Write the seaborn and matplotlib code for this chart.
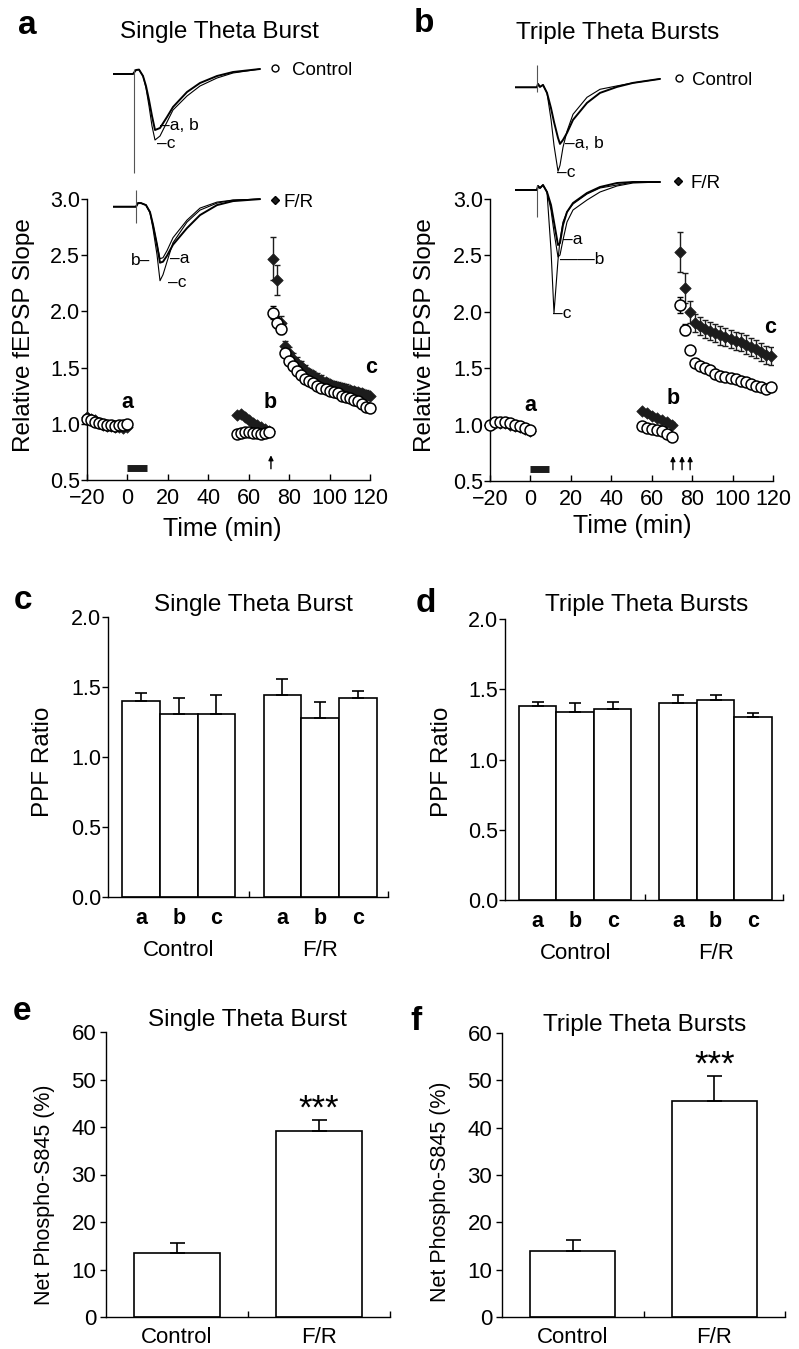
import numpy as np
import pandas as pd
import matplotlib
matplotlib.use('Agg')
import matplotlib.pyplot as plt
from matplotlib.lines import Line2D
import seaborn as sns

sns.set_style('ticks', {'axes.edgecolor': 'black', 'xtick.color': 'black', 'ytick.color': 'black',
                        'text.color': 'black', 'axes.labelcolor': 'black'})
plt.rcParams['font.family'] = ['Liberation Sans', 'DejaVu Sans']
plt.rcParams['axes.linewidth'] = 1.0

W, H = 799, 1349
DARK = '#1c1c1c'

# ---------------- panel a : single theta burst, fEPSP slope vs time ----------------
time_a = [-20, -18, -16, -14, -12, -10, -8, -6, -4, -2, 0,
          54, 56, 58, 60, 62, 64, 66, 68, 70,
          72, 74, 76, 78, 80, 82, 84, 86, 88, 90, 92, 94, 96, 98, 100,
          102, 104, 106, 108, 110, 112, 114, 116, 118, 120]
ctrl_a = [1.04, 1.03, 1.02, 1.01, 1.00, 0.99, 0.99, 0.98, 0.99, 0.99, 1.00,
          0.91, 0.92, 0.93, 0.93, 0.92, 0.92, 0.91, 0.92, 0.93,
          1.99, 1.90, 1.84, 1.63, 1.56, 1.51, 1.47, 1.43, 1.40, 1.38, 1.36, 1.34, 1.32, 1.31, 1.29,
          1.28, 1.27, 1.25, 1.24, 1.23, 1.21, 1.20, 1.18, 1.15, 1.14]
ctrl_a_err = [0.02, 0.02, 0.02, 0.02, 0.02, 0.02, 0.02, 0.02, 0.02, 0.02, 0.02,
              0.02, 0.02, 0.02, 0.02, 0.02, 0.02, 0.02, 0.02, 0.02,
              0.06, 0.05, 0.04, 0.03, 0.03, 0.03, 0.03, 0.03, 0.03, 0.03, 0.03, 0.03, 0.03, 0.03, 0.03,
              0.03, 0.03, 0.03, 0.03, 0.03, 0.03, 0.03, 0.03, 0.03, 0.03]
fr_a = [1.06, 1.04, 1.03, 1.01, 0.99, 0.98, 0.98, 0.97, 0.97, 0.96, 0.97,
        1.08, 1.09, 1.06, 1.03, 1.01, 0.99, 0.97, 0.95, 0.94,
        2.47, 2.28, 1.90, 1.69, 1.63, 1.58, 1.54, 1.51, 1.48, 1.45, 1.43, 1.41, 1.39, 1.37, 1.35,
        1.34, 1.33, 1.32, 1.31, 1.30, 1.29, 1.28, 1.27, 1.26, 1.25]
fr_a_err = [0.02, 0.02, 0.02, 0.02, 0.02, 0.02, 0.02, 0.02, 0.02, 0.02, 0.02,
            0.02, 0.02, 0.02, 0.02, 0.02, 0.02, 0.02, 0.02, 0.02,
            0.19, 0.13, 0.06, 0.05, 0.05, 0.05, 0.05, 0.05, 0.04, 0.04, 0.04, 0.04, 0.04, 0.04, 0.04,
            0.04, 0.04, 0.04, 0.04, 0.04, 0.04, 0.04, 0.04, 0.04, 0.04]

# ---------------- panel b : triple theta bursts ----------------
time_b = [-20, -17.5, -15, -12.5, -10, -7.5, -5, -2.5, 0,
          55, 57.5, 60, 62.5, 65, 67.5, 70,
          74, 76.5, 79, 81.5, 84, 86.5, 89, 91.5, 94, 96.5, 99, 101.5, 104, 106.5,
          109, 111.5, 114, 116.5, 119]
ctrl_b = [1.00, 1.02, 1.02, 1.02, 1.01, 1.00, 0.99, 0.97, 0.95,
          0.99, 0.97, 0.96, 0.95, 0.94, 0.92, 0.89,
          2.06, 1.84, 1.66, 1.55, 1.52, 1.50, 1.48, 1.45, 1.43, 1.42, 1.41, 1.40, 1.39, 1.38,
          1.36, 1.34, 1.33, 1.32, 1.33]
ctrl_b_err = [0.02, 0.02, 0.02, 0.02, 0.02, 0.02, 0.02, 0.02, 0.02,
              0.02, 0.02, 0.02, 0.02, 0.02, 0.02, 0.02,
              0.07, 0.05, 0.03, 0.02, 0.02, 0.02, 0.02, 0.02, 0.02, 0.02, 0.02, 0.02, 0.02, 0.02,
              0.02, 0.02, 0.02, 0.02, 0.02]
fr_b = [1.00, 1.01, 1.01, 1.01, 1.00, 0.99, 0.98, 0.96, 0.94,
        1.12, 1.10, 1.08, 1.06, 1.04, 1.02, 1.00,
        2.53, 2.21, 2.00, 1.90, 1.87, 1.85, 1.83, 1.81, 1.79, 1.78, 1.76, 1.74, 1.73, 1.71,
        1.69, 1.67, 1.64, 1.62, 1.61]
fr_b_err = [0.02, 0.02, 0.02, 0.02, 0.02, 0.02, 0.02, 0.02, 0.02,
            0.02, 0.02, 0.02, 0.02, 0.02, 0.02, 0.02,
            0.18, 0.13, 0.10, 0.08, 0.08, 0.08, 0.08, 0.08, 0.08, 0.08, 0.08, 0.08, 0.08, 0.08,
            0.08, 0.08, 0.08, 0.08, 0.08]

treat_a = [0, 9.5]          # F/R application (black bar)
treat_b = [0, 9.3]
arrows_a = [71]             # theta burst(s)
arrows_b = [70.5, 75, 79]
letters_a = [('a', 0, 1.19), ('b', 70.6, 1.19), ('c', 120.5, 1.50)]
letters_b = [('a', 0, 1.17), ('b', 70.5, 1.23), ('c', 118.8, 1.86)]

# ---------------- example fEPSP traces (ms, mV) ----------------
tr_t_a1 = [0, 4.0, 4.6, 5.2, 6.0, 6.6, 7.2, 7.8, 8.4, 9.4, 10.8, 12.0, 14.8, 17.4, 20.8, 24.0, 29.4]
tr_a_ctrl_ab = [0, 0, 0.2, 0.22, -0.1, -0.6, -1.3, -2.1, -2.8, -2.7, -2.15, -1.65, -0.9, -0.45, -0.1, 0.1, 0.25]
tr_a_ctrl_c = [0, 0, 0.2, 0.22, -0.1, -0.7, -1.6, -2.6, -3.3, -3.1, -2.4, -1.8, -1.1, -0.6, -0.2, 0.05, 0.25]
tr_t_a2 = [0, 4.6, 5.0, 5.6, 6.6, 7.4, 8.0, 8.8, 9.4, 10.0, 10.8, 12.0, 14.8, 17.4, 20.8, 24.0, 29.4]
tr_a_fr_a = [0, 0, 0.18, 0.18, 0.08, -0.27, -0.9, -1.9, -2.6, -2.55, -2.2, -1.55, -0.67, -0.07, 0.23, 0.33, 0.38]
tr_a_fr_b = [0, 0, 0.18, 0.18, 0.08, -0.27, -0.9, -1.9, -2.8, -2.75, -2.45, -1.9, -1.07, -0.42, 0.08, 0.28, 0.38]
tr_a_fr_c = [0, 0, 0.18, 0.18, 0.08, -0.3, -1.1, -2.4, -3.7, -3.4, -2.75, -1.8, -0.77, -0.17, 0.18, 0.33, 0.38]
tr_t_b = [0, 4.4, 4.6, 5.0, 5.6, 6.4, 7.2, 7.8, 8.6, 9.0, 9.6, 10.4, 11.6, 14.4, 17.0, 20.4, 23.6, 29.0]
tr_b_ctrl_ab = [0, 0, 0.17, 0.02, 0.12, -0.28, -1.04, -1.73, -2.53, -2.83, -2.63, -2.28, -1.63, -0.78, -0.28, 0.02, 0.22, 0.42]
tr_b_ctrl_c = [0, 0, 0.17, 0.02, 0.12, -0.28, -1.6, -2.9, -4.2, -3.9, -3.0, -2.2, -1.35, -0.5, -0.1, 0.07, 0.22, 0.42]
tr_b_fr_a = [0, 0, 0.2, 0.1, 0.25, -0.1, -0.75, -1.6, -2.75, -2.65, -1.75, -1.1, -0.65, -0.15, 0.15, 0.35, 0.4, 0.4]
tr_b_fr_b = [0, 0, 0.2, 0.1, 0.25, -0.1, -1.0, -2.1, -3.35, -3.25, -2.5, -1.6, -1.0, -0.5, -0.1, 0.2, 0.35, 0.4]
tr_b_fr_c = [0, 0, 0.2, 0.1, 0.25, -0.1, -3.0, -6.15, -3.5, -2.5, -1.6, -1.1, -0.7, -0.2, 0.1, 0.25, 0.4, 0.4]

# ---------------- panels c, d : PPF ratio ----------------
ppf_groups = ['Control', 'Control', 'Control', 'F/R', 'F/R', 'F/R']
ppf_phases = ['a', 'b', 'c', 'a', 'b', 'c']
ppf_c = [1.40, 1.31, 1.31, 1.44, 1.28, 1.42]
ppf_c_err = [0.06, 0.11, 0.13, 0.12, 0.11, 0.05]
ppf_d = [1.38, 1.34, 1.36, 1.40, 1.42, 1.30]
ppf_d_err = [0.03, 0.06, 0.05, 0.06, 0.04, 0.03]

# ---------------- panels e, f : net phospho-S845 ----------------
phospho_groups = ['Control', 'F/R']
phospho_e = [13.5, 39.1]
phospho_e_err = [2.1, 2.3]
phospho_f = [13.9, 45.6]
phospho_f_err = [2.3, 5.4]

fig = plt.figure(figsize=(W / 100, H / 100), dpi=100)


def px_axes(left, top, right, bottom):
    return fig.add_axes([left / W, 1 - bottom / H, (right - left) / W, (bottom - top) / H])


def px_text(x, y, s, **kw):
    fig.text(x / W, 1 - y / H, s, ha='center', va='center', **kw)


def time_panel(ax, t, ctrl, ctrl_err, fr, fr_err, treat, arrows, letters):
    ax.errorbar(t, fr, yerr=fr_err, fmt='none', ecolor=DARK, elinewidth=1, capsize=2, capthick=1, zorder=2)
    sns.scatterplot(x=t, y=fr, marker='D', s=34, color=DARK, edgecolor=DARK, linewidth=0.5,
                    ax=ax, zorder=3, clip_on=False)
    ax.errorbar(t, ctrl, yerr=ctrl_err, fmt='none', ecolor='black', elinewidth=1, capsize=2, capthick=1, zorder=4)
    sns.scatterplot(x=t, y=ctrl, marker='o', s=62, color='white', edgecolor='black', linewidth=1.1,
                    ax=ax, zorder=5, clip_on=False)
    ax.plot(treat, [0.61, 0.61], color=DARK, lw=5, solid_capstyle='butt')
    for x in arrows:
        ax.annotate('', xy=(x, 0.72), xytext=(x, 0.60),
                    arrowprops=dict(arrowstyle='-|>', color='black', lw=1, mutation_scale=7, shrinkA=0, shrinkB=0))
    for s, x, y in letters:
        ax.text(x, y, s, fontsize=15.5, fontweight='bold', ha='center', va='center')
    ax.set_xlim(-20, 120)
    ax.set_ylim(0.5, 3.0)
    ax.set_xticks([-20, 0, 20, 40, 60, 80, 100, 120])
    ax.set_yticks([0.5, 1.0, 1.5, 2.0, 2.5, 3.0], ['0.5', '1.0', '1.5', '2.0', '2.5', '3.0'])
    ax.tick_params(axis='x', direction='in', length=4, width=1, pad=5.5, labelsize=15.5)
    ax.tick_params(axis='y', direction='out', length=4, width=1, pad=1, labelsize=15.5)
    sns.despine(ax=ax)


def trace_axes(left_px, base_px):
    # 5 px per ms, 20 px per mV; t = 0 at left_px, 0 mV at base_px
    ax = px_axes(left_px, base_px - 1.5 * 20, left_px + 50 * 5, base_px + 6.5 * 20)
    ax.set_xlim(0, 50)
    ax.set_ylim(-6.5, 1.5)
    ax.axis('off')
    return ax


def draw_traces(ax, t, traces, artifact):
    for i, v in enumerate(traces):
        sns.lineplot(x=t, y=v, color='black', linewidth=1.4 if i == 0 else 0.8, sort=False,
                     estimator=None, ax=ax)
    ax.vlines(artifact[0], artifact[2], artifact[1], color='#555555', lw=0.8)


def key(ax, marker, filled, label, x_px, y_px, pad):
    h = Line2D([], [], marker=marker, linestyle='none', mfc=DARK if filled else 'white', mec='black',
               ms=4.5 if filled else 5, mew=1)
    ax.legend([h], [label], loc='center left', bbox_to_anchor=(x_px / W, 1 - y_px / H),
              bbox_transform=fig.transFigure, frameon=False, fontsize=13.5, handlelength=0.5,
              handletextpad=pad, borderpad=0, borderaxespad=0)


def ppf_panel(ax, values, errs):
    df = pd.DataFrame({'group': ppf_groups, 'phase': ppf_phases, 'ppf': values})
    sns.barplot(data=df, x='group', y='ppf', hue='phase', palette={'a': 'white', 'b': 'white', 'c': 'white'},
                saturation=1, edgecolor='black', linewidth=1.2, errorbar=None, legend=False, ax=ax)
    bars = sorted(ax.patches, key=lambda p: p.get_x())
    xs = [p.get_x() + p.get_width() / 2 for p in bars]
    hs = [p.get_height() for p in bars]
    ax.errorbar(xs, hs, yerr=[np.zeros(len(errs)), errs], fmt='none', ecolor='black', elinewidth=1.2,
                capsize=4.5, capthick=1.2, zorder=3)
    ax.set_xlim(-0.5, 1.48)
    ax.set_ylim(0, 2.0)
    ax.set_xticks(xs, ppf_phases)
    for lab in ax.get_xticklabels():
        lab.set_fontweight('bold')
    ax.set_xticks([0.5, 1.48], minor=True)
    ax.set_yticks([0, 0.5, 1.0, 1.5, 2.0], ['0.0', '0.5', '1.0', '1.5', '2.0'])
    ax.tick_params(axis='x', which='major', length=0, pad=8, labelsize=15.5)
    ax.tick_params(axis='x', which='minor', direction='in', length=4, width=1)
    ax.tick_params(axis='y', direction='out', length=4, width=1, pad=1, labelsize=15.5)
    ax.set_xlabel('')
    ax.set_ylabel('')
    for i, g in enumerate(['Control', 'F/R']):
        ax.text(i, -0.19, g, transform=ax.get_xaxis_transform(), ha='center', va='center', fontsize=16)
    sns.despine(ax=ax)


def phospho_panel(ax, values, errs):
    sns.barplot(x=phospho_groups, y=values, color='white', saturation=1, edgecolor='black', linewidth=1.2,
                width=0.6, errorbar=None, ax=ax)
    bars = sorted(ax.patches, key=lambda p: p.get_x())
    xs = [p.get_x() + p.get_width() / 2 for p in bars]
    hs = [p.get_height() for p in bars]
    ax.errorbar(xs, hs, yerr=[np.zeros(len(errs)), errs], fmt='none', ecolor='black', elinewidth=1.2,
                capsize=5.4, capthick=1.2, zorder=3)
    ax.text(xs[1], hs[1] + errs[1] + 0.3, '***', ha='center', va='baseline', fontsize=25)
    ax.set_xlim(-0.5, 1.5)
    ax.set_ylim(0, 60)
    ax.set_xticks([0.5, 1.5], minor=True)
    ax.set_yticks([0, 10, 20, 30, 40, 50, 60])
    ax.tick_params(axis='x', which='major', length=0, pad=7, labelsize=16)
    ax.tick_params(axis='x', which='minor', direction='in', length=4, width=1)
    ax.tick_params(axis='y', direction='out', length=4, width=1, pad=3, labelsize=16)
    sns.despine(ax=ax)


# time course panels
ax_a = px_axes(87, 199, 370, 480)
time_panel(ax_a, time_a, ctrl_a, ctrl_a_err, fr_a, fr_a_err, treat_a, arrows_a, letters_a)
ax_b = px_axes(490, 199, 773, 481)
time_panel(ax_b, time_b, ctrl_b, ctrl_b_err, fr_b, fr_b_err, treat_b, arrows_b, letters_b)

# trace insets
t1 = trace_axes(113, 74)
draw_traces(t1, tr_t_a1, [tr_a_ctrl_ab, tr_a_ctrl_c], (4.2, 0.25, -4.95))
t1.text(9.4, -2.6, '\u2013a, b', fontsize=12.5, va='center')
t1.text(8.8, -3.5, '\u2013c', fontsize=12.5, va='center')
key(t1, 'o', False, 'Control', 270, 70, 0.65)

t2 = trace_axes(113, 206.7)
draw_traces(t2, tr_t_a2, [tr_a_fr_b, tr_a_fr_a, tr_a_fr_c], (4.6, 0.83, -0.82))
t2.text(7.4, -2.67, 'b\u2013', fontsize=12.5, va='center', ha='right')
t2.text(11.4, -2.6, '\u2013a', fontsize=12.5, va='center')
t2.text(11.0, -3.8, '\u2013c', fontsize=12.5, va='center')
key(t2, 'D', True, 'F/R', 270, 202, 0.2)

t3 = trace_axes(515, 87.3)
draw_traces(t3, tr_t_b, [tr_b_ctrl_ab, tr_b_ctrl_c], (4.4, 1.12, -0.24))
t3.text(10.0, -2.83, '\u2013a, b', fontsize=12.5, va='center')
t3.text(8.4, -4.24, '\u2013c', fontsize=12.5, va='center')
key(t3, 'o', False, 'Control', 674, 80, 0.44)

t4 = trace_axes(515, 190)
draw_traces(t4, tr_t_b, [tr_b_fr_a, tr_b_fr_b, tr_b_fr_c], (4.4, 0.25, -1.35))
t4.text(9.6, -2.45, '\u2013a', fontsize=12.5, va='center')
t4.text(9.0, -3.45, '\u2014\u2014b', fontsize=12.5, va='center')
t4.text(7.6, -6.15, '\u2013c', fontsize=12.5, va='center')
key(t4, 'D', True, 'F/R', 673, 183, 0.41)

# bar panels
ax_c = px_axes(108, 617, 388, 897)
ppf_panel(ax_c, ppf_c, ppf_c_err)
ax_d = px_axes(505, 619, 783, 900)
ppf_panel(ax_d, ppf_d, ppf_d_err)
ax_e = px_axes(106, 1032, 390, 1317)
phospho_panel(ax_e, phospho_e, phospho_e_err)
ax_f = px_axes(502, 1033, 785, 1317)
phospho_panel(ax_f, phospho_f, phospho_f_err)

# titles, panel letters, axis labels
for x, y, s in [(219, 32, 'Single Theta Burst'), (618, 33, 'Triple Theta Bursts'),
                (253, 605, 'Single Theta Burst'), (647, 605, 'Triple Theta Bursts'),
                (247, 1020, 'Single Theta Burst'), (645, 1025, 'Triple Theta Bursts')]:
    px_text(x, y, s, fontsize=17.5)
for x, y, s in [(27, 26, 'a'), (424, 24, 'b'), (23, 601, 'c'), (426, 603, 'd'), (22, 1012, 'e'), (416, 1021, 'f')]:
    px_text(x, y, s, fontsize=24, fontweight='bold')
for x, y in [(222, 529), (632, 526)]:
    px_text(x, y, 'Time (min)', fontsize=18)
for x, y in [(24, 335), (425, 335)]:
    px_text(x, y, 'Relative fEPSP Slope', fontsize=17.5, rotation=90)
for x, y in [(43, 762), (442, 762)]:
    px_text(x, y, 'PPF Ratio', fontsize=17.5, rotation=90)
for x, y in [(45, 1195), (440, 1192)]:
    px_text(x, y, 'Net Phospho-S845 (%)', fontsize=15.5, rotation=90)

plt.savefig('out.png', dpi=100)
